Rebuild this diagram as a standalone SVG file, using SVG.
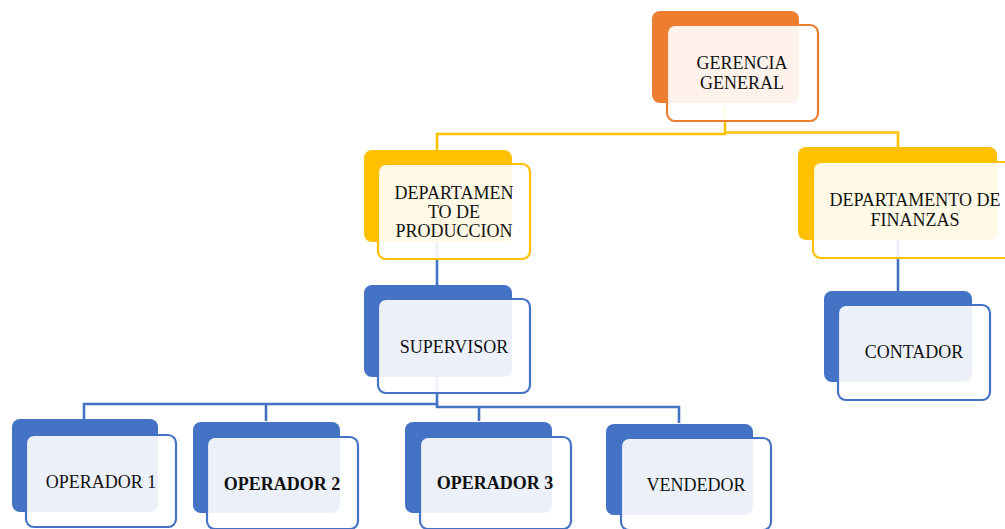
<svg xmlns="http://www.w3.org/2000/svg" width="1005" height="529" viewBox="0 0 1005 529">
<style>
.bg{fill:#fff}
.conn{fill:none;stroke-width:2.6;stroke-linejoin:miter}
.cy{stroke:#FFC000}
.cb{stroke:#4472C4}
.bo{fill:#ED7D31}
.by{fill:#FFC000}
.bb{fill:#4472C4}
.front{fill:#fff;fill-opacity:0.9;stroke-width:2.2}
.fo{stroke:#ED7D31}
.fy{stroke:#FFC000}
.fb{stroke:#4472C4}
.t{font-size:18px;fill:#111;text-anchor:middle}
.b{font-weight:bold}
</style>
<rect class="bg" x="0" y="0" width="1005" height="529"/>
<g id="connectors">
<path class="conn cy" d="M725,106 V134 H437 V150"/>
<path class="conn cy" d="M725,132.5 H898 V148"/>
<path class="conn cb" d="M437,242 V286"/>
<path class="conn cb" d="M898,240 V291"/>
<path class="conn cb" d="M437,377 V404 H84 V419"/>
<path class="conn cb" d="M266,404 V421"/>
<path class="conn cb" d="M437,404 V407 H679 V423"/>
<path class="conn cb" d="M479,407 V421"/>
</g>
<g font-family="Liberation Serif, DejaVu Serif, serif">
<g id="gerencia">
<rect class="bo" x="652" y="11" width="147" height="92" rx="8"/>
<rect class="front fo" x="667" y="25" width="151" height="96" rx="8"/>
<text class="t" x="742" y="69">GERENCIA</text>
<text class="t" x="742" y="89">GENERAL</text>
</g>
<g id="dep-produccion">
<rect class="by" x="364" y="150" width="148" height="92" rx="8"/>
<rect class="front fy" x="378" y="164" width="152" height="95" rx="8"/>
<text class="t" x="454" y="199">DEPARTAMEN</text>
<text class="t" x="454" y="218">TO DE</text>
<text class="t" x="454" y="237">PRODUCCION</text>
</g>
<g id="dep-finanzas">
<rect class="by" x="798" y="147" width="199" height="93" rx="8"/>
<rect class="front fy" x="813" y="162" width="210" height="96" rx="8"/>
<text class="t" x="915" y="206">DEPARTAMENTO DE</text>
<text class="t" x="915" y="226">FINANZAS</text>
</g>
<g id="supervisor">
<rect class="bb" x="364" y="285" width="148" height="92" rx="8"/>
<rect class="front fb" x="378" y="299" width="152" height="94" rx="8"/>
<text class="t" x="454" y="353">SUPERVISOR</text>
</g>
<g id="contador">
<rect class="bb" x="824" y="291" width="148" height="91" rx="8"/>
<rect class="front fb" x="838" y="305" width="152" height="95" rx="8"/>
<text class="t" x="914" y="358">CONTADOR</text>
</g>
<g id="operador1">
<rect class="bb" x="12" y="419" width="146" height="93" rx="8"/>
<rect class="front fb" x="26" y="435" width="150" height="92" rx="8"/>
<text class="t" x="101" y="488">OPERADOR 1</text>
</g>
<g id="operador2">
<rect class="bb" x="193" y="422" width="147" height="91" rx="8"/>
<rect class="front fb" x="207" y="437" width="151" height="92" rx="8"/>
<text class="t b" x="282" y="490">OPERADOR 2</text>
</g>
<g id="operador3">
<rect class="bb" x="405" y="422" width="147" height="91" rx="8"/>
<rect class="front fb" x="420" y="437" width="151" height="92" rx="8"/>
<text class="t b" x="495" y="489">OPERADOR 3</text>
</g>
<g id="vendedor">
<rect class="bb" x="606" y="424" width="147" height="91" rx="8"/>
<rect class="front fb" x="621" y="438" width="150" height="92" rx="8"/>
<text class="t" x="696" y="491">VENDEDOR</text>
</g>
</g>
</svg>
